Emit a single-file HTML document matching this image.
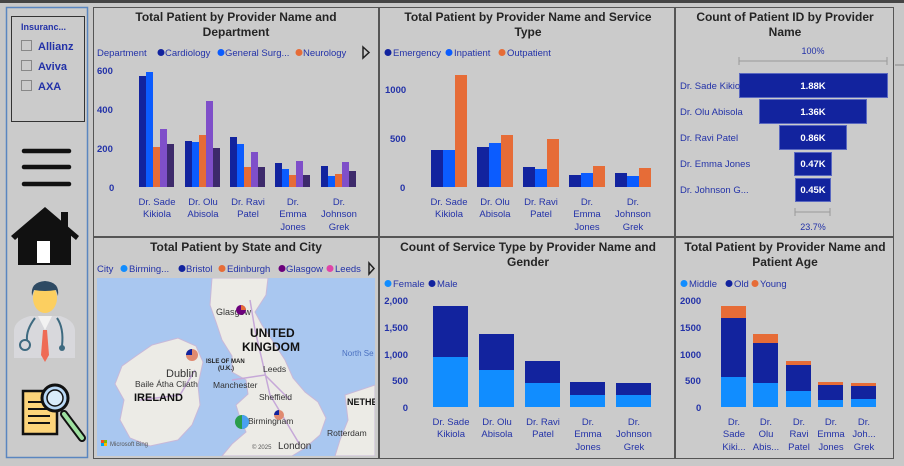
<!DOCTYPE html>
<html><head><meta charset="utf-8"><style>
html,body{margin:0;padding:0;background:#c8c8c8;}
svg{display:block;font-family:"Liberation Sans",sans-serif;}
.t{font-weight:bold;font-size:12px;fill:#252525;text-anchor:middle}
.lg{font-size:9.5px;fill:#2332a8}
.ax{font-size:9.5px;fill:#2332a8;font-weight:bold}
.xl{font-size:9.5px;fill:#2332a8;text-anchor:middle}
.m{fill:#333;font-size:8.5px}
</style></head><body>
<svg width="904" height="466" viewBox="0 0 904 466">
<rect width="904" height="466" fill="#c8c8c8"/>
<rect x="0" y="0" width="904" height="3" fill="#444"/>
<!-- panels -->
<rect x="93.5" y="7.5" width="285" height="229" fill="#cbcbcb" stroke="#555"/>
<rect x="379.5" y="7.5" width="295" height="229" fill="#cbcbcb" stroke="#555"/>
<rect x="675.5" y="7.5" width="218" height="229" fill="#cbcbcb" stroke="#555"/>
<rect x="93.5" y="237.5" width="285" height="221" fill="#cbcbcb" stroke="#555"/>
<rect x="379.5" y="237.5" width="295" height="221" fill="#cbcbcb" stroke="#555"/>
<rect x="675.5" y="237.5" width="218" height="221" fill="#cbcbcb" stroke="#555"/>
<line x1="895" y1="65" x2="904" y2="65" stroke="#888"/>
<!-- sidebar -->
<rect x="6.5" y="7.5" width="81" height="450" fill="#cbcbcb" stroke="#5a86c0" stroke-width="1.5"/>
<rect x="11.5" y="16.5" width="73" height="105" fill="none" stroke="#333"/>
<text x="21" y="30" style="font-size:9px;fill:#2332a8;font-weight:bold">Insuranc...</text>
<rect x="21.5" y="40.5" width="10" height="10" fill="none" stroke="#888"/>
<rect x="21.5" y="60.5" width="10" height="10" fill="none" stroke="#888"/>
<rect x="21.5" y="80.5" width="10" height="10" fill="none" stroke="#888"/>
<text x="38" y="50" style="font-size:11px;fill:#2332a8;font-weight:bold">Allianz</text>
<text x="38" y="70" style="font-size:11px;fill:#2332a8;font-weight:bold">Aviva</text>
<text x="38" y="90" style="font-size:11px;fill:#2332a8;font-weight:bold">AXA</text>
<g stroke="#111" stroke-width="4.5" stroke-linecap="round"><line x1="24" y1="151" x2="69" y2="151"/><line x1="24" y1="167" x2="69" y2="167"/><line x1="24" y1="184" x2="69" y2="184"/></g>
<polygon points="45,207 11,236 15,240 45,214 76,240 79,236" fill="#111"/>
<rect x="61" y="212" width="7" height="15" fill="#111"/>
<polygon points="18,232 45,212 71,232 71,265 18,265" fill="#111"/>
<rect x="37" y="241" width="13" height="22" fill="#fff"/>
<!-- doctor -->
<path d="M14,358 L14,330 Q15,320 30,316 L60,316 Q74,320 75,330 L75,358 Z" fill="#d8d8dc"/>
<polygon points="38,316 52,316 45,330" fill="#f2f2f2"/>
<polygon points="43,330 47,330 49,355 45,362 41,355" fill="#ef6b55"/>
<ellipse cx="45" cy="298" rx="12" ry="15" fill="#fccf60"/>
<path d="M32,296 Q30,282 45,281 Q60,282 58,296 L56,290 Q45,292 34,290 Z" fill="#2e4a63"/>
<path d="M35,318 Q26,330 27,340 M57,318 Q64,328 62,346" stroke="#3e6a80" stroke-width="2" fill="none"/>
<circle cx="25" cy="345" r="5" fill="none" stroke="#3e6a80" stroke-width="2"/>
<circle cx="62" cy="348" r="3" fill="#3e6a80"/>
<!-- document -->
<rect x="23" y="391" width="34" height="43" fill="#fcd47a" stroke="#111" stroke-width="2.5"/>
<g stroke="#111" stroke-width="2"><line x1="28" y1="402" x2="45" y2="402"/><line x1="28" y1="409" x2="48" y2="409"/><line x1="28" y1="416" x2="50" y2="416"/><line x1="28" y1="423" x2="50" y2="423"/></g>
<line x1="64" y1="414" x2="82" y2="438" stroke="#111" stroke-width="8" stroke-linecap="round"/>
<line x1="64" y1="414" x2="82" y2="438" stroke="#9ee0a0" stroke-width="4" stroke-linecap="round"/>
<circle cx="55" cy="398" r="13" fill="#b9d8f5" stroke="#111" stroke-width="3"/>
<circle cx="55" cy="398" r="8" fill="#d9ecfb" stroke="#111" stroke-width="1.5"/>

<!-- Panel 1 -->
<text class="t" x="236" y="21">Total Patient by Provider Name and</text>
<text class="t" x="236" y="36">Department</text>
<text class="lg" x="97" y="56">Department</text>
<circle cx="161" cy="52.5" r="3.5" fill="#12239E"/><text class="lg" x="165" y="56">Cardiology</text>
<circle cx="221" cy="52.5" r="3.5" fill="#0B5CFF"/><text class="lg" x="225" y="56">General Surg...</text>
<circle cx="299" cy="52.5" r="3.5" fill="#E66C37"/><text class="lg" x="303" y="56">Neurology</text>
<polygon points="363,47 369,52.5 363,58" fill="none" stroke="#222" stroke-width="1.5"/>
<text class="ax" x="97" y="74">600</text><text class="ax" x="97" y="152">200</text><text class="ax" x="97" y="113">400</text><text class="ax" x="109" y="191">0</text>
<g>
<rect x="139" y="76" width="7" height="111" fill="#12239E"/><rect x="146" y="72" width="7" height="115" fill="#0B5CFF"/><rect x="153" y="147" width="7" height="40" fill="#E66C37"/><rect x="160" y="129" width="7" height="58" fill="#7F4FC9"/><rect x="167" y="144" width="7" height="43" fill="#3D2A6B"/>
<rect x="185" y="141" width="7" height="46" fill="#12239E"/><rect x="192" y="142" width="7" height="45" fill="#0B5CFF"/><rect x="199" y="135" width="7" height="52" fill="#E66C37"/><rect x="206" y="101" width="7" height="86" fill="#7F4FC9"/><rect x="213" y="148" width="7" height="39" fill="#3D2A6B"/>
<rect x="230" y="137" width="7" height="50" fill="#12239E"/><rect x="237" y="144" width="7" height="43" fill="#0B5CFF"/><rect x="244" y="167" width="7" height="20" fill="#E66C37"/><rect x="251" y="152" width="7" height="35" fill="#7F4FC9"/><rect x="258" y="167" width="7" height="20" fill="#3D2A6B"/>
<rect x="275" y="163" width="7" height="24" fill="#12239E"/><rect x="282" y="169" width="7" height="18" fill="#0B5CFF"/><rect x="289" y="175" width="7" height="12" fill="#E66C37"/><rect x="296" y="161" width="7" height="26" fill="#7F4FC9"/><rect x="303" y="175" width="7" height="12" fill="#3D2A6B"/>
<rect x="321" y="166" width="7" height="21" fill="#12239E"/><rect x="328" y="176" width="7" height="11" fill="#0B5CFF"/><rect x="335" y="174" width="7" height="13" fill="#E66C37"/><rect x="342" y="162" width="7" height="25" fill="#7F4FC9"/><rect x="349" y="171" width="7" height="16" fill="#3D2A6B"/>
</g>
<text class="xl" x="157" y="205">Dr. Sade</text><text class="xl" x="157" y="217">Kikiola</text>
<text class="xl" x="203" y="205">Dr. Olu</text><text class="xl" x="203" y="217">Abisola</text>
<text class="xl" x="248" y="205">Dr. Ravi</text><text class="xl" x="248" y="217">Patel</text>
<text class="xl" x="293" y="205">Dr.</text><text class="xl" x="293" y="217">Emma</text><text class="xl" x="293" y="230">Jones</text>
<text class="xl" x="339" y="205">Dr.</text><text class="xl" x="339" y="217">Johnson</text><text class="xl" x="339" y="230">Grek</text>

<!-- Panel 2 -->
<text class="t" x="528" y="21">Total Patient by Provider Name and Service</text>
<text class="t" x="528" y="36">Type</text>
<circle cx="388" cy="52.5" r="3.5" fill="#12239E"/><text class="lg" x="393" y="56">Emergency</text>
<circle cx="449" cy="52.5" r="3.5" fill="#0B5CFF"/><text class="lg" x="454" y="56">Inpatient</text>
<circle cx="502" cy="52.5" r="3.5" fill="#E66C37"/><text class="lg" x="507" y="56">Outpatient</text>
<text class="ax" x="385" y="93">1000</text><text class="ax" x="390" y="142">500</text><text class="ax" x="400" y="191">0</text>
<rect x="431" y="150" width="12" height="37" fill="#12239E"/><rect x="443" y="150" width="12" height="37" fill="#0B5CFF"/><rect x="455" y="75" width="12" height="112" fill="#E66C37"/>
<rect x="477" y="147" width="12" height="40" fill="#12239E"/><rect x="489" y="143" width="12" height="44" fill="#0B5CFF"/><rect x="501" y="135" width="12" height="52" fill="#E66C37"/>
<rect x="523" y="167" width="12" height="20" fill="#12239E"/><rect x="535" y="169" width="12" height="18" fill="#0B5CFF"/><rect x="547" y="139" width="12" height="48" fill="#E66C37"/>
<rect x="569" y="175" width="12" height="12" fill="#12239E"/><rect x="581" y="173" width="12" height="14" fill="#0B5CFF"/><rect x="593" y="166" width="12" height="21" fill="#E66C37"/>
<rect x="615" y="173" width="12" height="14" fill="#12239E"/><rect x="627" y="176" width="12" height="11" fill="#0B5CFF"/><rect x="639" y="168" width="12" height="19" fill="#E66C37"/>
<text class="xl" x="449" y="205">Dr. Sade</text><text class="xl" x="449" y="217">Kikiola</text>
<text class="xl" x="495" y="205">Dr. Olu</text><text class="xl" x="495" y="217">Abisola</text>
<text class="xl" x="541" y="205">Dr. Ravi</text><text class="xl" x="541" y="217">Patel</text>
<text class="xl" x="587" y="205">Dr.</text><text class="xl" x="587" y="217">Emma</text><text class="xl" x="587" y="230">Jones</text>
<text class="xl" x="633" y="205">Dr.</text><text class="xl" x="633" y="217">Johnson</text><text class="xl" x="633" y="230">Grek</text>

<!-- Panel 3 funnel -->
<text class="t" x="785" y="21">Count of Patient ID by Provider</text>
<text class="t" x="785" y="36">Name</text>
<text class="xl" x="813" y="54" style="font-size:9px">100%</text>
<g stroke="#999"><line x1="739" y1="61" x2="887" y2="61"/><line x1="739" y1="57" x2="739" y2="65"/><line x1="887" y1="57" x2="887" y2="65"/>
<line x1="795" y1="212" x2="830" y2="212"/><line x1="795" y1="208" x2="795" y2="216"/><line x1="830" y1="208" x2="830" y2="216"/></g>
<g fill="#12239E" stroke="#5a68c0">
<rect x="739.5" y="73.5" width="148" height="24"/><rect x="759.5" y="99.5" width="107" height="24"/><rect x="779.5" y="125.5" width="67" height="24"/><rect x="794.5" y="152.5" width="37" height="23"/><rect x="795.5" y="178.5" width="35" height="23"/></g>
<g class="lg" style="font-size:9.5px">
<text x="680" y="89">Dr. Sade Kikio</text><text x="680" y="115">Dr. Olu Abisola</text><text x="680" y="141">Dr. Ravi Patel</text><text x="680" y="167">Dr. Emma Jones</text><text x="680" y="193">Dr. Johnson G...</text></g>
<g style="font-size:9.5px;fill:#fff;font-weight:bold" text-anchor="middle">
<text x="813" y="89">1.88K</text><text x="813" y="115">1.36K</text><text x="813" y="141">0.86K</text><text x="813" y="167">0.47K</text><text x="813" y="193">0.45K</text></g>
<text class="xl" x="813" y="230" style="font-size:9px">23.7%</text>

<!-- Map panel -->
<text class="t" x="236" y="251">Total Patient by State and City</text>
<text class="lg" x="97" y="272">City</text>
<circle cx="124" cy="268.5" r="3.5" fill="#118DFF"/><text class="lg" x="129" y="272">Birming...</text>
<circle cx="182" cy="268.5" r="3.5" fill="#12239E"/><text class="lg" x="186" y="272">Bristol</text>
<circle cx="222" cy="268.5" r="3.5" fill="#E66C37"/><text class="lg" x="227" y="272">Edinburgh</text>
<circle cx="282" cy="268.5" r="3.5" fill="#6B007B"/><text class="lg" x="286" y="272">Glasgow</text>
<circle cx="330" cy="268.5" r="3.5" fill="#E044A7"/><text class="lg" x="335" y="272">Leeds</text>
<polygon points="369,263 374,268.5 369,274" fill="none" stroke="#222" stroke-width="1.5"/>
<svg x="97" y="278" width="278" height="178" viewBox="97 278 278 178">
<rect x="97" y="278" width="278" height="178" fill="#a9c7f0"/>
<path d="M212,278 L268,278 L266,295 L255,312 L262,325 L272,340 L285,360 L293,378 L305,392 L318,402 L326,418 L320,435 L305,448 L292,456 L222,456 L232,444 L246,432 L240,418 L236,405 L248,394 L246,380 L232,372 L232,356 L222,340 L216,322 L210,305 Z" fill="#ecebe6" stroke="#c8b8d8"/>
<path d="M152,345 L178,338 L196,346 L203,362 L198,385 L200,405 L192,425 L178,440 L150,446 L130,438 L120,420 L124,400 L115,384 L122,366 L136,356 Z" fill="#ecebe6" stroke="#c8b8d8"/>
<path d="M345,395 L375,385 L375,456 L335,456 L340,440 L348,420 Z" fill="#ecebe6" stroke="#c8b8d8"/>
<path d="M250,300 L255,330 L262,360 L270,395 L285,420 L300,445 M232,380 L265,375 L290,400 M140,400 L180,395 L195,370" stroke="#c6a8d8" stroke-width="1.5" fill="none"/>
<text x="216" y="315" class="m" style="font-size:9px">Glasgow</text>
<text x="250" y="337" style="font-size:12px;font-weight:bold;fill:#111">UNITED</text>
<text x="242" y="351" style="font-size:12px;font-weight:bold;fill:#111">KINGDOM</text>
<text x="342" y="356" style="font-size:8px;fill:#4a70c0">North Se</text>
<text x="206" y="363" style="font-size:6px;font-weight:bold;fill:#222">ISLE OF MAN</text>
<text x="218" y="370" style="font-size:6px;font-weight:bold;fill:#222">(U.K.)</text>
<text x="166" y="377" style="font-size:11px;fill:#333">Dublin</text>
<text x="135" y="387" class="m">Baile Átha Cliath</text>
<text x="134" y="401" style="font-size:11px;font-weight:bold;fill:#111">IRELAND</text>
<text x="213" y="388" class="m">Manchester</text>
<text x="263" y="372" class="m">Leeds</text>
<text x="259" y="400" class="m">Sheffield</text>
<text x="248" y="424" class="m">Birmingham</text>
<text x="327" y="436" class="m">Rotterdam</text>
<text x="347" y="405" style="font-size:9px;font-weight:bold;fill:#111">NETHE</text>
<text x="278" y="449" style="font-size:10px;fill:#333">London</text>
<text x="252" y="449" style="font-size:6px;fill:#555">© 2025</text>
<rect x="101" y="440" width="3" height="3" fill="#f25022"/><rect x="104" y="440" width="3" height="3" fill="#7fba00"/><rect x="101" y="443" width="3" height="3" fill="#00a4ef"/><rect x="104" y="443" width="3" height="3" fill="#ffb900"/>
<text x="110" y="446" style="font-size:6px;fill:#555">Microsoft Bing</text>
<circle cx="241" cy="310" r="5" fill="#6B007B"/><path d="M241,310 L241,305 A5,5 0 0 1 246,310 Z" fill="#E66C37"/>
<circle cx="192" cy="355" r="6" fill="#e08a70"/><path d="M192,355 L192,349 A6,6 0 0 0 186,355 Z" fill="#12239E"/>
<circle cx="242" cy="422" r="7" fill="#2a9d4a"/><path d="M242,422 L242,415 A7,7 0 0 1 249,422 A7,7 0 0 1 242,429 Z" fill="#4aa0f0"/>
<circle cx="279" cy="415" r="5" fill="#e08a70"/><path d="M279,415 L279,410 A5,5 0 0 0 274,415 Z" fill="#12239E"/>
</svg>

<!-- Gender panel -->
<text class="t" x="528" y="251">Count of Service Type by Provider Name and</text>
<text class="t" x="528" y="266">Gender</text>
<circle cx="388" cy="283.5" r="3.5" fill="#118DFF"/><text class="lg" x="393" y="287">Female</text>
<circle cx="432" cy="283.5" r="3.5" fill="#12239E"/><text class="lg" x="437" y="287">Male</text>
<g class="ax" text-anchor="end"><text x="408" y="304">2,000</text><text x="408" y="331">1,500</text><text x="408" y="358">1,000</text><text x="408" y="384">500</text><text x="408" y="411">0</text></g>
<rect x="433" y="306" width="35" height="51" fill="#12239E"/><rect x="433" y="357" width="35" height="50" fill="#118DFF"/>
<rect x="479" y="334" width="35" height="36" fill="#12239E"/><rect x="479" y="370" width="35" height="37" fill="#118DFF"/>
<rect x="525" y="361" width="35" height="22" fill="#12239E"/><rect x="525" y="383" width="35" height="24" fill="#118DFF"/>
<rect x="570" y="382" width="35" height="13" fill="#12239E"/><rect x="570" y="395" width="35" height="12" fill="#118DFF"/>
<rect x="616" y="383" width="35" height="12" fill="#12239E"/><rect x="616" y="395" width="35" height="12" fill="#118DFF"/>
<text class="xl" x="451" y="425">Dr. Sade</text><text class="xl" x="451" y="437">Kikiola</text>
<text class="xl" x="497" y="425">Dr. Olu</text><text class="xl" x="497" y="437">Abisola</text>
<text class="xl" x="543" y="425">Dr. Ravi</text><text class="xl" x="543" y="437">Patel</text>
<text class="xl" x="588" y="425">Dr.</text><text class="xl" x="588" y="437">Emma</text><text class="xl" x="588" y="450">Jones</text>
<text class="xl" x="634" y="425">Dr.</text><text class="xl" x="634" y="437">Johnson</text><text class="xl" x="634" y="450">Grek</text>

<!-- Age panel -->
<text class="t" x="785" y="251">Total Patient by Provider Name and</text>
<text class="t" x="785" y="266">Patient Age</text>
<circle cx="684" cy="283.5" r="3.5" fill="#118DFF"/><text class="lg" x="689" y="287">Middle</text>
<circle cx="729" cy="283.5" r="3.5" fill="#12239E"/><text class="lg" x="734" y="287">Old</text>
<circle cx="755" cy="283.5" r="3.5" fill="#E66C37"/><text class="lg" x="760" y="287">Young</text>
<g class="ax"><text x="680" y="304">2000</text><text x="680" y="331">1500</text><text x="680" y="358">1000</text><text x="685" y="384">500</text><text x="696" y="411">0</text></g>
<rect x="721" y="306" width="25" height="12" fill="#E66C37"/><rect x="721" y="318" width="25" height="59" fill="#12239E"/><rect x="721" y="377" width="25" height="30" fill="#118DFF"/>
<rect x="753" y="334" width="25" height="9" fill="#E66C37"/><rect x="753" y="343" width="25" height="40" fill="#12239E"/><rect x="753" y="383" width="25" height="24" fill="#118DFF"/>
<rect x="786" y="361" width="25" height="4" fill="#E66C37"/><rect x="786" y="365" width="25" height="26" fill="#12239E"/><rect x="786" y="391" width="25" height="16" fill="#118DFF"/>
<rect x="818" y="382" width="25" height="3" fill="#E66C37"/><rect x="818" y="385" width="25" height="15" fill="#12239E"/><rect x="818" y="400" width="25" height="7" fill="#118DFF"/>
<rect x="851" y="383" width="25" height="3" fill="#E66C37"/><rect x="851" y="386" width="25" height="13" fill="#12239E"/><rect x="851" y="399" width="25" height="8" fill="#118DFF"/>
<text class="xl" x="734" y="425">Dr.</text><text class="xl" x="734" y="437">Sade</text><text class="xl" x="734" y="450">Kiki...</text>
<text class="xl" x="766" y="425">Dr.</text><text class="xl" x="766" y="437">Olu</text><text class="xl" x="766" y="450">Abis...</text>
<text class="xl" x="799" y="425">Dr.</text><text class="xl" x="799" y="437">Ravi</text><text class="xl" x="799" y="450">Patel</text>
<text class="xl" x="831" y="425">Dr.</text><text class="xl" x="831" y="437">Emma</text><text class="xl" x="831" y="450">Jones</text>
<text class="xl" x="864" y="425">Dr.</text><text class="xl" x="864" y="437">Joh...</text><text class="xl" x="864" y="450">Grek</text>
</svg>
</body></html>
